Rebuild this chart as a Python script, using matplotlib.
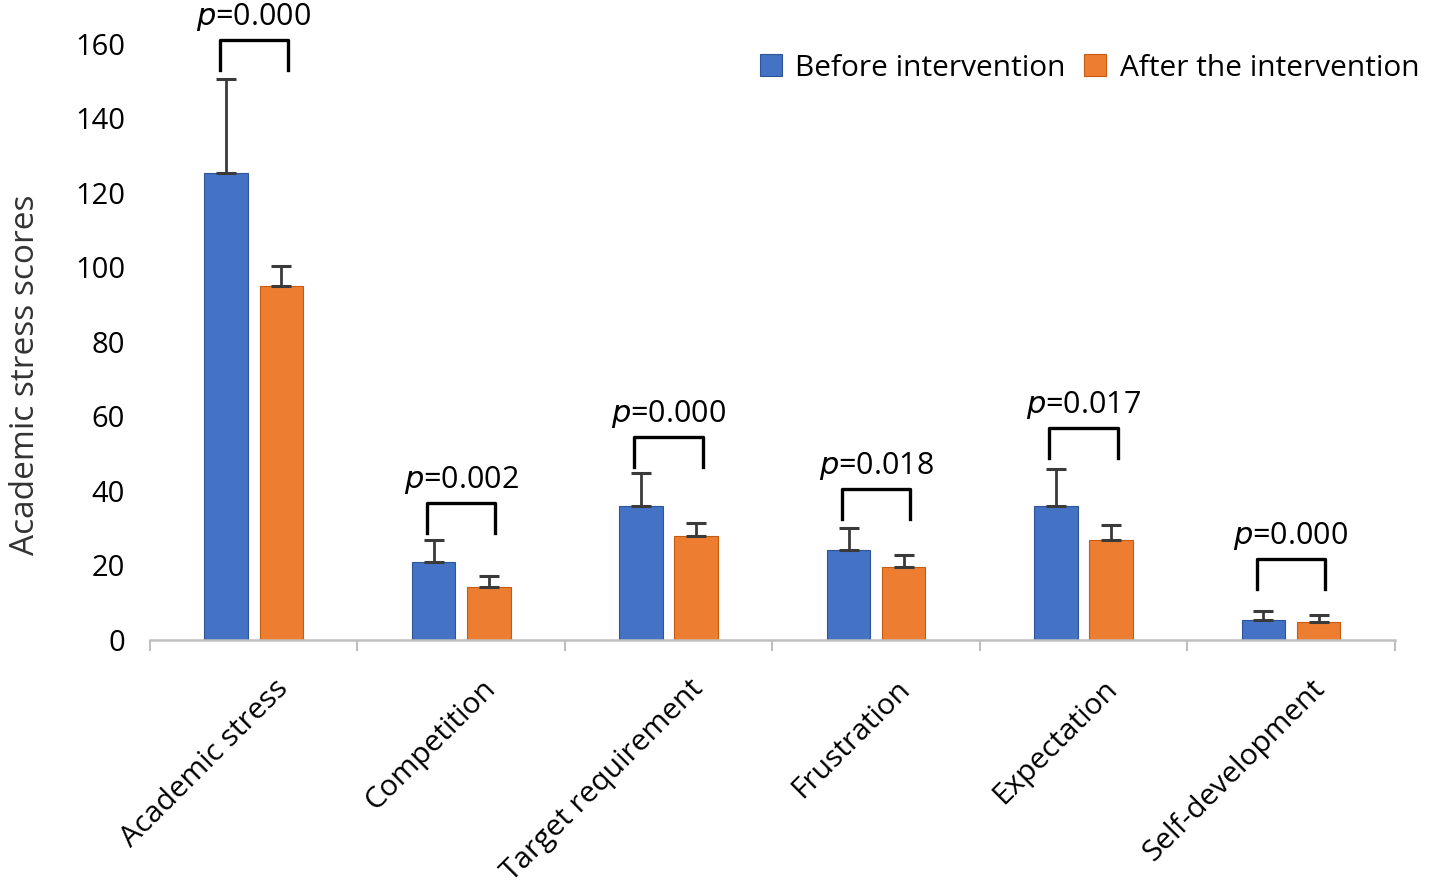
import numpy as np
import matplotlib
matplotlib.use("Agg")
import matplotlib.pyplot as plt
import matplotlib.transforms as mtransforms

plt.rcParams['font.family'] = ['Open Sans', 'DejaVu Sans']

categories = ["Academic stress", "Competition", "Target requirement",
              "Frustration", "Expectation", "Self-development"]
before_mean = [125.4, 20.9, 36.0, 24.2, 36.0, 5.4]
before_sd = [25.2, 5.9, 8.8, 5.9, 9.9, 2.4]
after_mean = [95.0, 14.2, 27.9, 19.6, 26.8, 4.8]
after_sd = [5.4, 3.0, 3.5, 3.2, 4.1, 1.9]
p_values = ["0.000", "0.002", "0.000", "0.018", "0.017", "0.000"]
bracket_base = [153.0, 28.7, 46.4, 32.5, 48.9, 13.7]

BLUE = "#4472C4"
ORANGE = "#ED7D31"
ERR = "#3a3a3a"

fig = plt.figure(figsize=(14.29, 8.91), dpi=100)
ax = fig.add_axes([0.105, 0.2817, 0.871, 0.669])

x = np.arange(len(categories))
w = 0.21
off = 0.133
zeros = [0] * len(categories)

ax.bar(x - off, before_mean, w, color=BLUE, edgecolor="#2f5597", linewidth=0.8,
       label="Before intervention", zorder=2)
ax.bar(x + off, after_mean, w, color=ORANGE, edgecolor="#c55a11", linewidth=0.8,
       label="After the intervention", zorder=2)
ax.errorbar(x - off, before_mean, yerr=[zeros, before_sd], fmt="none",
            ecolor=ERR, elinewidth=2, capsize=7.5, capthick=2.2, zorder=3)
ax.errorbar(x + off, after_mean, yerr=[zeros, after_sd], fmt="none",
            ecolor=ERR, elinewidth=2, capsize=7.5, capthick=2.2, zorder=3)

# significance brackets
h = 8.0
for i in range(len(categories)):
    b = bracket_base[i]
    xl = x[i] - 0.165
    xr = x[i] + 0.165
    ax.plot([xl, xl, xr, xr], [b, b + h, b + h, b], color="black", lw=2.4,
            clip_on=False, zorder=4)
    ax.text(x[i], b + h + 2.0, r"$\it{p}$=" + p_values[i], ha="center", va="bottom",
            fontsize=22, color="black", clip_on=False)

ax.set_xlim(-0.5, len(categories) - 0.5)
ax.set_ylim(0, 160)
ax.set_yticks(np.arange(0, 161, 20))
ax.tick_params(axis="y", length=0, labelsize=21, pad=18)

ax.set_xticks(x)
ax.set_xticklabels(categories, rotation=45, ha="right", va="center",
                   rotation_mode="anchor", fontsize=21.5)
ax.tick_params(axis="x", which="major", length=0, pad=32)
shift = mtransforms.ScaledTranslation(0.3, 0, fig.dpi_scale_trans)
for lab in ax.get_xticklabels():
    lab.set_transform(lab.get_transform() + shift)
ax.set_xticks(np.arange(-0.5, len(categories), 1.0), minor=True)
ax.tick_params(axis="x", which="minor", length=8, width=1.5, color="#bfbfbf")

for s in ["top", "right", "left"]:
    ax.spines[s].set_visible(False)
ax.spines["bottom"].set_color("#bfbfbf")
ax.spines["bottom"].set_linewidth(1.8)

fig.text(0.018, 0.579, "Academic stress scores", rotation=90, ha="center",
         va="center", fontsize=24, color="#333333")

fig.legend(loc="upper right", bbox_to_anchor=(1.012, 0.97), ncol=2, frameon=False,
           fontsize=21.5, handlelength=0.75, handleheight=0.75, handletextpad=0.45,
           columnspacing=0.6)

fig.savefig("out.png", dpi=100)
